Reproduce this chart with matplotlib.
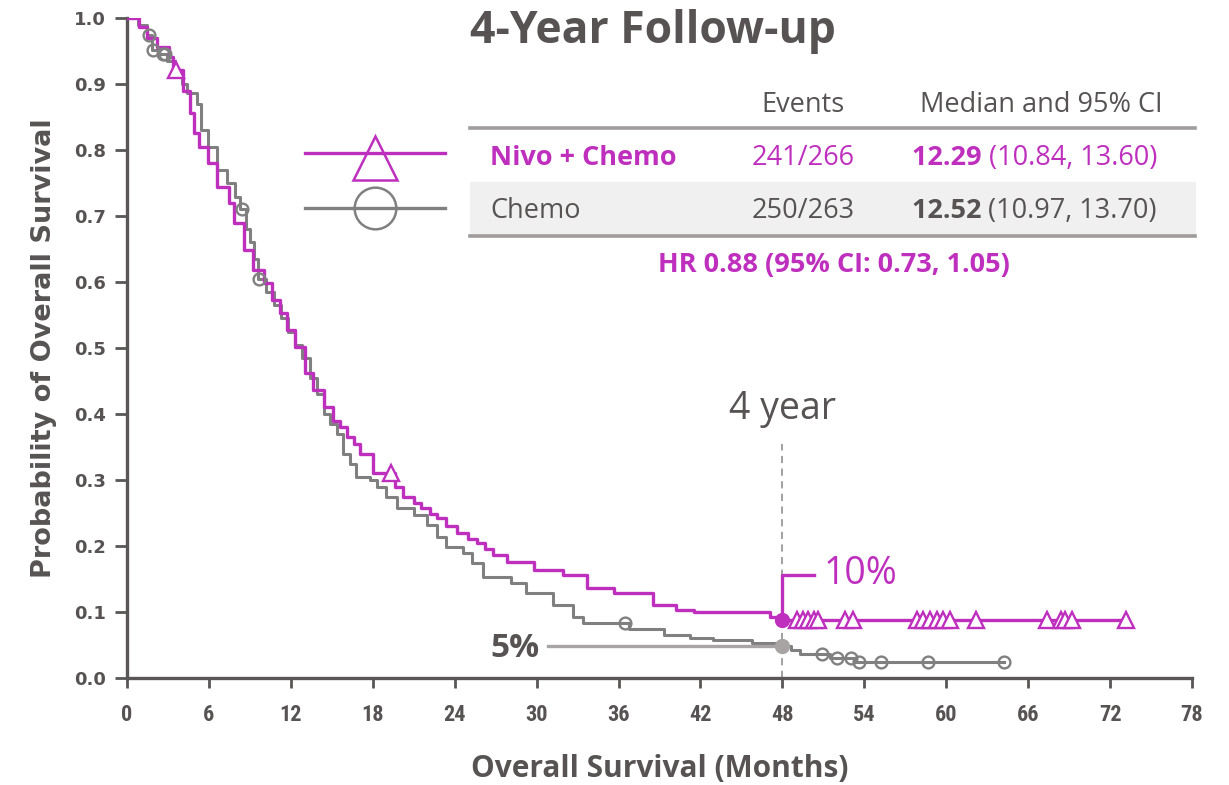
import matplotlib
matplotlib.use("Agg")
import matplotlib.pyplot as plt
from matplotlib import font_manager
import numpy as np

# Kaplan-Meier step data (months, survival probability after each step)
nivo_t = [0, 0.9, 1.5, 2.2, 3.1, 3.4, 4.1, 4.6, 4.9, 5.3, 5.9, 6.6, 7.5, 7.8, 8.6, 9.2,
          10.0, 10.6, 11.2, 11.7, 12.3, 13.0, 13.6, 14.4, 15.1, 15.6, 16.1, 16.6, 17.1,
          18.0, 19.6, 20.2, 21.0, 21.5, 22.2, 22.7, 23.4, 24.2, 25.0, 25.6, 26.2, 26.8,
          27.8, 29.8, 31.9, 33.7, 35.7, 38.5, 40.2, 41.5, 47.1, 47.8]
nivo_s = [1.0, 0.986, 0.97, 0.956, 0.941, 0.921, 0.89, 0.856, 0.826, 0.805, 0.78, 0.744,
          0.72, 0.689, 0.648, 0.618, 0.598, 0.573, 0.553, 0.527, 0.502, 0.462, 0.436,
          0.41, 0.39, 0.38, 0.365, 0.355, 0.34, 0.31, 0.29, 0.275, 0.265, 0.258, 0.248,
          0.242, 0.23, 0.22, 0.211, 0.205, 0.195, 0.186, 0.176, 0.164, 0.156, 0.136,
          0.129, 0.11, 0.103, 0.100, 0.093, 0.088]
nivo_end = 73.2
nivo_cens = [3.6, 19.3, 49.1, 49.5, 49.9, 50.3, 50.6, 52.6, 53.2, 57.85, 58.3, 58.8,
             59.3, 59.8, 60.3, 62.2, 67.4, 68.4, 68.7, 69.2, 73.2]

chemo_t = [0, 0.8, 1.5, 1.8, 2.3, 2.9, 3.5, 4.0, 4.4, 5.1, 5.4, 5.9, 6.6, 7.3, 7.9, 8.3,
           8.7, 9.0, 9.3, 9.6, 10.2, 10.8, 11.3, 11.8, 12.3, 12.8, 13.4, 13.9, 14.4, 14.9,
           15.4, 15.8, 16.3, 16.8, 17.8, 18.3, 19.0, 19.8, 21.0, 22.0, 22.7, 23.4, 24.6,
           25.3, 26.1, 28.1, 29.2, 31.2, 32.7, 33.4, 36.8, 39.3, 41.2, 42.9, 45.8, 47.8,
           48.6, 49.3, 51.5, 53.3]
chemo_s = [1.0, 0.99, 0.975, 0.952, 0.945, 0.935, 0.92, 0.90, 0.886, 0.87, 0.83, 0.805,
           0.77, 0.75, 0.729, 0.71, 0.68, 0.66, 0.635, 0.605, 0.585, 0.565, 0.545, 0.525,
           0.505, 0.485, 0.455, 0.43, 0.40, 0.385, 0.37, 0.34, 0.325, 0.305, 0.30, 0.29,
           0.275, 0.257, 0.247, 0.232, 0.214, 0.199, 0.19, 0.174, 0.153, 0.144, 0.129,
           0.11, 0.093, 0.083, 0.075, 0.065, 0.06, 0.057, 0.053, 0.048, 0.042, 0.036,
           0.030, 0.024]
chemo_end = 64.2
chemo_cens = [1.6, 1.9, 2.6, 2.8, 8.4, 9.7, 36.5, 50.9, 52.0, 53.0, 53.6, 55.2, 58.7, 64.2]

landmark = 48
nivo_pct = "10%"
chemo_pct = "5%"

x_ticks = list(range(0, 79, 6))
y_ticks = [0.0, 0.1, 0.2, 0.3, 0.4, 0.5, 0.6, 0.7, 0.8, 0.9, 1.0]

arms = ["Nivo + Chemo", "Chemo"]
events = ["241/266", "250/263"]
medians = ["12.29", "12.52"]
cis = ["(10.84, 13.60)", "(10.97, 13.70)"]
hr_text = "HR 0.88 (95% CI: 0.73, 1.05)"

MAG = "#bf2fbe"
GRY = "#808080"
DARK = "#575353"
AXC = "#5a5656"


def pick(*names):
    have = {f.name for f in font_manager.fontManager.ttflist}
    for n in names:
        if n in have:
            return n
    return "DejaVu Sans"


SANS = pick("Open Sans", "Lato", "Noto Sans")
NARROW = pick("Roboto Condensed", "Liberation Sans Narrow", SANS)
WIDE = "DejaVu Sans"


def surv_at(t, times, surv):
    i = np.searchsorted(times, t, side="right") - 1
    return surv[i]


fig = plt.figure(figsize=(12.29, 7.85), dpi=100)
ax = fig.add_axes([127 / 1229, 107 / 785, 1065 / 1229, 660 / 785])
ax.patch.set_visible(False)

# curves
ax.step(nivo_t + [nivo_end], nivo_s + [nivo_s[-1]], where="post", color=MAG, lw=2.4, zorder=4)
ax.step(chemo_t + [chemo_end], chemo_s + [chemo_s[-1]], where="post", color=GRY, lw=2.2, zorder=3)

# censor marks
ax.plot(nivo_cens, [surv_at(c, nivo_t, nivo_s) for c in nivo_cens], ls="none", marker="^",
        ms=11.5, mfc="white", mec=MAG, mew=1.7, zorder=5)
ax.plot(chemo_cens, [surv_at(c, chemo_t, chemo_s) for c in chemo_cens], ls="none", marker="o",
        ms=8.5, mfc="none", mec=GRY, mew=1.7, zorder=4)

# 4-year landmark
ax.plot([landmark, landmark], [0, 0.355], ls=(0, (4, 3)), color="#9a9a9a", lw=1.3, zorder=2)
ax.text(landmark, 0.408, "4 year", ha="center", va="center", fontsize=27, color=DARK,
        family=SANS)

nv = surv_at(landmark, nivo_t, nivo_s)
cv = surv_at(landmark, chemo_t, chemo_s)
ax.plot([landmark, landmark, 50.3], [nv, 0.156, 0.156], color=MAG, lw=2.4, zorder=6)
ax.plot(landmark, nv, marker="o", ms=10, color=MAG, zorder=7)
ax.text(51.0, 0.158, nivo_pct, ha="left", va="center", fontsize=27, color=MAG, family=SANS)

ax.plot([30.8, landmark], [cv, cv], color="#a8a4a4", lw=2.4, zorder=6)
ax.plot(landmark, cv, marker="o", ms=10, color="#a8a4a4", zorder=7)
ax.text(30.2, cv - 0.003, chemo_pct, ha="right", va="center", fontsize=24, color=DARK,
        family=SANS, fontweight="bold")

# axes styling
ax.set_xlim(0, 78)
ax.set_ylim(0, 1.0)
ax.set_xticks(x_ticks)
ax.set_yticks(y_ticks)
ax.set_yticklabels([f"{v:.1f}" for v in y_ticks])
for s in ["top", "right"]:
    ax.spines[s].set_visible(False)
for s in ["left", "bottom"]:
    ax.spines[s].set_color(AXC)
    ax.spines[s].set_linewidth(2.4)
ax.tick_params(axis="both", direction="out", color=AXC, width=2, labelcolor=DARK)
ax.tick_params(axis="x", length=7, pad=12, labelsize=16)
ax.tick_params(axis="y", length=9, pad=6, labelsize=13)
for lb in ax.get_xticklabels():
    lb.set_family(NARROW)
    lb.set_fontweight("bold")
for lb in ax.get_yticklabels():
    lb.set_family(WIDE)
    lb.set_fontweight("bold")

ax.set_xlabel("Overall Survival (Months)", fontsize=21.5, color=DARK, family=SANS,
              fontweight="bold", labelpad=20)
ax.set_ylabel("Probability of Overall Survival", fontsize=19.5, color=DARK, family=WIDE,
              fontweight="bold", labelpad=12)

# title
fig.text(470 / 1229, 1 - 31 / 785, "4-Year Follow-up", ha="left", va="center", fontsize=32,
         color=DARK, fontweight="bold", family=SANS)


# summary table, placed in figure pixels
def fx(px):
    return px / 1229


def fy(py):
    return 1 - py / 785


TS = 19.5
fig.text(fx(803), fy(105), "Events", ha="center", va="center", fontsize=TS, color=DARK,
         family=SANS)
fig.text(fx(1041), fy(105), "Median and 95% CI", ha="center", va="center", fontsize=TS,
         color=DARK, family=SANS)
fig.add_artist(plt.Line2D([fx(470), fx(1195)], [fy(128), fy(128)], color="#a09c9c", lw=2.6))
fig.add_artist(plt.Rectangle((fx(470), fy(234)), fx(1195) - fx(470), fy(182) - fy(234),
                             color="#f0f0f0", zorder=0.5))
fig.add_artist(plt.Line2D([fx(470), fx(1195)], [fy(236), fy(236)], color="#a09c9c", lw=2.6))

row_y = [158, 211]
row_c = [MAG, DARK]
for i in range(2):
    fig.text(fx(490), fy(row_y[i]), arms[i], ha="left", va="center", fontsize=TS,
             color=row_c[i], family=SANS, fontweight="bold" if i == 0 else "normal")
    fig.text(fx(803), fy(row_y[i]), events[i], ha="center", va="center", fontsize=TS,
             color=row_c[i], family=SANS)
    t1 = fig.text(fx(912), fy(row_y[i]), medians[i] + " ", ha="left", va="center", fontsize=TS,
                  color=row_c[i], family=SANS, fontweight="bold")
    fig.canvas.draw()
    bb = t1.get_window_extent()
    fig.text(bb.x1 / 1229, fy(row_y[i]), cis[i], ha="left", va="center", fontsize=TS,
             color=row_c[i], family=SANS)

fig.text(fx(834), fy(265), hr_text, ha="center", va="center", fontsize=TS, color=MAG,
         family=SANS, fontweight="bold")

# legend glyphs
fig.add_artist(plt.Line2D([fx(305), fx(445)], [fy(153), fy(153)], color=MAG, lw=2.4))
fig.add_artist(plt.Line2D([fx(375)], [fy(158)], ls="none", marker="^", ms=31, mfc="none",
                          mec=MAG, mew=1.8))
fig.add_artist(plt.Line2D([fx(305), fx(445)], [fy(208), fy(208)], color=GRY, lw=2.4))
fig.add_artist(plt.Line2D([fx(375)], [fy(208)], ls="none", marker="o", ms=30, mfc="none",
                          mec=GRY, mew=1.8))

fig.savefig("out.png", dpi=100)
